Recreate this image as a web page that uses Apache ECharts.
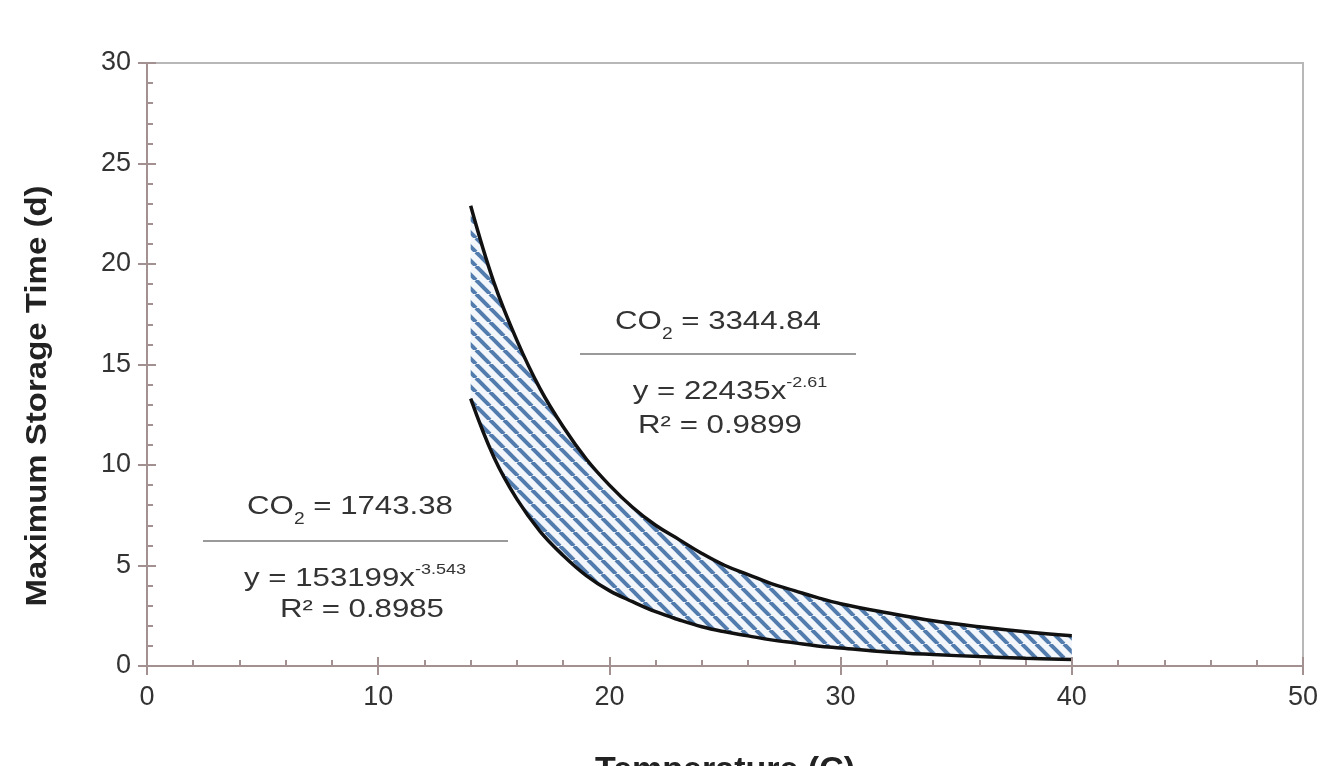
<!DOCTYPE html>
<html>
<head>
<meta charset="utf-8">
<script src="https://cdn.jsdelivr.net/npm/echarts@6/dist/echarts.min.js"></script>
<style>
  html, body { margin: 0; padding: 0; background: #fff; overflow: hidden; }
  #chart { width: 1320px; height: 766px; }
</style>
</head>
<body>
<div id="chart"></div>
<script>
// values
const temps = [14, 15, 16, 17, 18, 19, 20, 21, 22, 23, 24, 25, 26, 27, 28, 29, 30, 32, 34, 36, 38, 40];
const upperDays = [22.9, 19.1, 16.2, 13.8, 11.9, 10.3, 9.0, 7.9, 7.0, 6.3, 5.6, 5.0, 4.55, 4.1, 3.75, 3.4, 3.1, 2.65, 2.25, 1.95, 1.7, 1.5];
const lowerDays = [13.3, 10.4, 8.3, 6.7, 5.5, 4.5, 3.75, 3.2, 2.7, 2.3, 1.95, 1.7, 1.5, 1.3, 1.15, 1.0, 0.9, 0.7, 0.57, 0.47, 0.39, 0.32];
const xTicks = [0, 10, 20, 30, 40, 50];
const yTicks = [0, 5, 10, 15, 20, 25, 30];

const FONT = "'Liberation Sans', Arial, sans-serif";
const axisColor = "#a39090";

// diagonal hatch tile
function hatch() {
  const s = 14;
  const c = document.createElement("canvas");
  c.width = s;
  c.height = s;
  const ctx = c.getContext("2d");
  ctx.fillStyle = "#f3f7fb";
  ctx.fillRect(0, 0, s, s);
  ctx.strokeStyle = "#527cae";
  ctx.lineWidth = 4;
  for (const x0 of [-s, 0, s]) {
    ctx.beginPath();
    ctx.moveTo(x0, 0);
    ctx.lineTo(x0 + s, s);
    ctx.stroke();
  }
  return c;
}

const upperData = temps.map((t, i) => [t, upperDays[i]]);
const lowerData = temps.map((t, i) => [t, lowerDays[i]]);

const chart = echarts.init(document.getElementById("chart"));

const label = { fontFamily: FONT, fontSize: 27, color: "#333" };

function eqText(x, y, text, rich) {
  return {
    type: "text", x: x, y: y, scaleX: 1.2, z: 10,
    style: Object.assign({ text: text, textAlign: "center", textVerticalAlign: "middle", fill: "#333" },
      rich ? { rich: rich } : { font: "26px " + FONT })
  };
}
function rule(x1, x2, y) {
  return { type: "line", z: 10, shape: { x1: x1, y1: y, x2: x2, y2: y }, style: { stroke: "#9a9a9a", lineWidth: 2 } };
}
const richSub = {
  a: { fontFamily: FONT, fontSize: 26, fill: "#333", lineHeight: 34 },
  s: { fontFamily: FONT, fontSize: 16, fill: "#333", lineHeight: 34, verticalAlign: "bottom", padding: [0, 0, -4, 0] }
};
const richSup = {
  a: { fontFamily: FONT, fontSize: 26, fill: "#333", lineHeight: 34 },
  p: { fontFamily: FONT, fontSize: 15, fill: "#333", lineHeight: 34, verticalAlign: "top" }
};

chart.setOption({
  animation: false,
  grid: {
    left: 147, right: 17, top: 63, bottom: 100,
    outerBoundsMode: "none", containLabel: false,
    show: true, borderColor: "#b8b8b8", borderWidth: 2
  },
  xAxis: [
    {
      type: "value", min: xTicks[0], max: xTicks[xTicks.length - 1], interval: 10,
      position: "bottom", z: 5,
      name: "Temperature (C)", nameLocation: "middle", nameGap: 88,
      nameTextStyle: { fontFamily: FONT, fontSize: 34, fontWeight: "bold", color: "#222" },
      axisLine: { lineStyle: { color: axisColor, width: 2 } },
      axisTick: { inside: true, length: 9, lineStyle: { color: axisColor, width: 2 } },
      minorTick: { show: true, splitNumber: 5, length: 6, lineStyle: { color: axisColor, width: 2 } },
      axisLabel: Object.assign({ margin: 18 }, label),
      splitLine: { show: false }
    },
    {
      type: "value", min: 0, max: 50, interval: 10, position: "bottom", z: 5,
      axisLine: { show: false },
      axisTick: { inside: false, length: 9, lineStyle: { color: axisColor, width: 2 } },
      axisLabel: { show: false },
      splitLine: { show: false }
    }
  ],
  yAxis: [
    {
      type: "value", min: yTicks[0], max: yTicks[yTicks.length - 1], interval: 5,
      position: "left", z: 5,
      axisLine: { lineStyle: { color: axisColor, width: 2 } },
      axisTick: { inside: true, length: 9, lineStyle: { color: axisColor, width: 2 } },
      minorTick: { show: true, splitNumber: 5, length: 6, lineStyle: { color: axisColor, width: 2 } },
      axisLabel: Object.assign({ margin: 16 }, label),
      splitLine: { show: false }
    },
    {
      type: "value", min: 0, max: 30, interval: 5, position: "left", z: 5,
      axisLine: { show: false },
      axisTick: { inside: false, length: 9, lineStyle: { color: axisColor, width: 2 } },
      axisLabel: { show: false },
      splitLine: { show: false }
    }
  ],
  series: [
    {
      name: "CO2 = 3344.84", type: "line",
      data: upperData, smooth: 0.4, showSymbol: false,
      lineStyle: { color: "#111", width: 3.5 },
      areaStyle: { origin: "start", color: { image: hatch(), repeat: "repeat" }, opacity: 1 },
      z: 2
    },
    {
      name: "CO2 = 1743.38", type: "line",
      data: lowerData, smooth: 0.4, showSymbol: false,
      lineStyle: { color: "#111", width: 3.5 },
      areaStyle: {
        origin: "start", color: "#ffffff", opacity: 1,
        shadowColor: "#ffffff", shadowBlur: 0, shadowOffsetX: -3
      },
      z: 3
    }
  ],
  graphic: [
    {
      type: "text", x: 38, y: 396, rotation: Math.PI / 2, scaleX: 1.1,
      style: {
        text: "Maximum Storage Time (d)", textAlign: "center", textVerticalAlign: "middle",
        font: "bold 30px " + FONT, fill: "#222"
      }
    },
    eqText(718, 322, "{a|CO}{s|2}{a| = 3344.84}", richSub),
    rule(580, 856, 354),
    eqText(730, 392, "{a|y = 22435x}{p|-2.61}", richSup),
    eqText(720, 426, "R² = 0.9899"),
    eqText(350, 507, "{a|CO}{s|2}{a| = 1743.38}", richSub),
    rule(203, 508, 541),
    eqText(355, 579, "{a|y = 153199x}{p|-3.543}", richSup),
    eqText(362, 610, "R² = 0.8985")
  ]
});
</script>
</body>
</html>
